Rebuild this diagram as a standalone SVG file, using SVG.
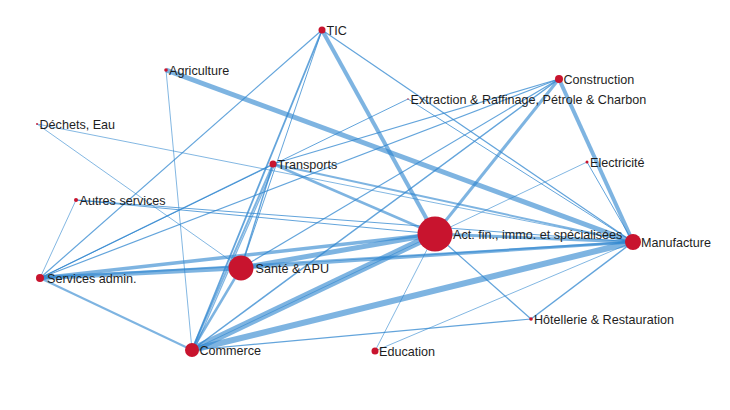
<svg xmlns="http://www.w3.org/2000/svg" width="730" height="410" viewBox="0 0 730 410">
<style>
.e{stroke:#2f86cf;stroke-opacity:0.62;fill:none;stroke-linecap:butt}
.t{stroke-opacity:0.75}
.n{fill:#c8142e}
.l{font-family:"Liberation Sans",Arial,sans-serif;font-size:12.6px;fill:#1e1e1e}
</style>
<rect width="730" height="410" fill="#fff"/>
<g id="connectors">
<line class="e" x1="192" y1="350" x2="435" y2="234" stroke-width="7"/>
<line class="e" x1="192" y1="350" x2="633" y2="242" stroke-width="6"/>
<line class="e" x1="40" y1="278" x2="241" y2="268" stroke-width="4.5"/>
<line class="e" x1="40" y1="278" x2="435" y2="234" stroke-width="3.5"/>
<line class="e" x1="40" y1="278" x2="633" y2="242" stroke-width="2"/>
<line class="e" x1="166" y1="70" x2="633" y2="242" stroke-width="5"/>
<line class="e" x1="241" y1="268" x2="435" y2="234" stroke-width="5"/>
<line class="e" x1="241" y1="268" x2="633" y2="242" stroke-width="3"/>
<line class="e" x1="322" y1="30" x2="435" y2="234" stroke-width="4"/>
<line class="e" x1="559" y1="79" x2="633" y2="242" stroke-width="4"/>
<line class="e" x1="559" y1="79" x2="435" y2="234" stroke-width="3"/>
<line class="e" x1="435" y1="234" x2="633" y2="242" stroke-width="3"/>
<line class="e" x1="273" y1="164" x2="192" y2="350" stroke-width="2"/>
<line class="e" x1="275" y1="164" x2="194" y2="350" stroke-width="1.2"/>
<line class="e" x1="273" y1="164" x2="435" y2="234" stroke-width="2.5"/>
<line class="e" x1="273" y1="164" x2="633" y2="242" stroke-width="2"/>
<line class="e" x1="241" y1="268" x2="192" y2="350" stroke-width="2.5"/>
<line class="e" x1="40" y1="278" x2="192" y2="350" stroke-width="2"/>
<line class="e t" x1="322" y1="30" x2="192" y2="350" stroke-width="1.8"/>
<line class="e t" x1="322" y1="30" x2="241" y2="268" stroke-width="1"/>
<line class="e t" x1="633" y1="242" x2="531" y2="319" stroke-width="1.5"/>
<line class="e t" x1="435" y1="234" x2="531" y2="319" stroke-width="1.2"/>
<line class="e t" x1="192" y1="350" x2="531" y2="319" stroke-width="1.2"/>
<line class="e t" x1="192" y1="350" x2="559" y2="79" stroke-width="1.5"/>
<line class="e t" x1="241" y1="268" x2="559" y2="79" stroke-width="1.2"/>
<line class="e t" x1="40" y1="278" x2="559" y2="79" stroke-width="1.2"/>
<line class="e t" x1="273" y1="164" x2="559" y2="79" stroke-width="1.2"/>
<line class="e t" x1="40" y1="278" x2="408" y2="99" stroke-width="1"/>
<line class="e t" x1="40" y1="278" x2="322" y2="30" stroke-width="1.2"/>
<line class="e t" x1="40" y1="278" x2="76" y2="200" stroke-width="0.8"/>
<line class="e t" x1="408" y1="99" x2="633" y2="242" stroke-width="1"/>
<line class="e t" x1="322" y1="30" x2="633" y2="242" stroke-width="1.2"/>
<line class="e t" x1="587" y1="162" x2="633" y2="242" stroke-width="1"/>
<line class="e t" x1="587" y1="162" x2="192" y2="350" stroke-width="0.8"/>
<line class="e t" x1="166" y1="70" x2="192" y2="350" stroke-width="0.8"/>
<line class="e t" x1="37" y1="124" x2="633" y2="242" stroke-width="0.8"/>
<line class="e t" x1="37" y1="124" x2="241" y2="268" stroke-width="0.8"/>
<line class="e t" x1="76" y1="200" x2="435" y2="234" stroke-width="1"/>
<line class="e t" x1="76" y1="200" x2="633" y2="242" stroke-width="1"/>
<line class="e t" x1="375" y1="351" x2="435" y2="234" stroke-width="0.8"/>
<line class="e t" x1="375" y1="351" x2="633" y2="242" stroke-width="0.8"/>
<line class="e t" x1="273" y1="164" x2="241" y2="268" stroke-width="1.5"/>
<line class="e t" x1="40" y1="278" x2="273" y2="164" stroke-width="1.2"/>
</g>
<g id="n-tic"><circle class="n" cx="322" cy="30" r="3.5"/><text class="l" x="326.5" y="34.5">TIC</text></g>
<g id="n-agriculture"><circle class="n" cx="166" cy="70" r="1.8"/><text class="l" x="169" y="74.5">Agriculture</text></g>
<g id="n-dechets"><circle class="n" cx="37" cy="124" r="0.9"/><text class="l" x="39.5" y="128.5">Déchets, Eau</text></g>
<g id="n-transports"><circle class="n" cx="273" cy="164" r="3.5"/><text class="l" x="277.5" y="168.5">Transports</text></g>
<g id="n-autres"><circle class="n" cx="76" cy="200" r="2"/><text class="l" x="79.5" y="204.5">Autres services</text></g>
<g id="n-services-admin"><circle class="n" cx="40" cy="278" r="4"/><text class="l" x="47" y="282.5">Services admin.</text></g>
<g id="n-sante"><circle class="n" cx="241" cy="268" r="12.5"/><text class="l" x="255.5" y="272.5">Santé &amp; APU</text></g>
<g id="n-commerce"><circle class="n" cx="192" cy="350" r="7"/><text class="l" x="199.5" y="354.5">Commerce</text></g>
<g id="n-actfin"><circle class="n" cx="435" cy="234" r="17.5"/><text class="l" x="453" y="238.5">Act. fin., immo. et spécialisées</text></g>
<g id="n-manufacture"><circle class="n" cx="633" cy="242" r="8"/><text class="l" x="641" y="246.5">Manufacture</text></g>
<g id="n-construction"><circle class="n" cx="559" cy="79" r="4"/><text class="l" x="563.5" y="83.5">Construction</text></g>
<g id="n-extraction"><circle class="n" cx="408" cy="99" r="0.9" fill-opacity="0.5"/><text class="l" x="410.5" y="103.5">Extraction &amp; Raffinage, Pétrole &amp; Charbon</text></g>
<g id="n-electricite"><circle class="n" cx="587" cy="162" r="1.5"/><text class="l" x="590" y="166.5">Electricité</text></g>
<g id="n-hotellerie"><circle class="n" cx="531" cy="319" r="1.8"/><text class="l" x="534" y="323.5">Hôtellerie &amp; Restauration</text></g>
<g id="n-education"><circle class="n" cx="375" cy="351" r="3.5"/><text class="l" x="379" y="355.5">Education</text></g>
</svg>
